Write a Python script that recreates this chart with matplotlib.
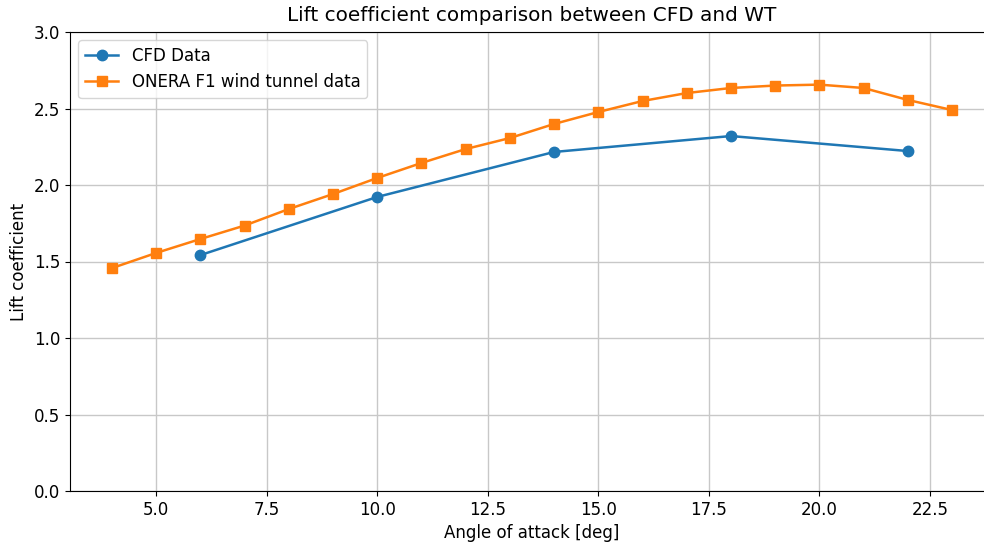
import matplotlib
matplotlib.use("Agg")
import matplotlib.pyplot as plt

# CFD results
cfd_aoa = [6, 10, 14, 18, 22]
cfd_cl = [1.542, 1.922, 2.216, 2.320, 2.222]

# ONERA F1 wind tunnel
wt_aoa = [4, 5, 6, 7, 8, 9, 10, 11, 12, 13, 14, 15, 16, 17, 18, 19, 20, 21, 22, 23]
wt_cl = [1.457, 1.556, 1.647, 1.735, 1.843, 1.941, 2.046, 2.144, 2.235, 2.307,
         2.399, 2.477, 2.549, 2.601, 2.634, 2.650, 2.656, 2.634, 2.556, 2.490]

plt.rcParams["font.size"] = 12

fig = plt.figure(figsize=(9.84, 5.47), dpi=100)
ax = fig.add_axes([70 / 984, 56 / 547, 924 / 984, 459 / 547])

ax.plot(cfd_aoa, cfd_cl, marker="o", markersize=7.5, linewidth=1.8, label="CFD Data")
ax.plot(wt_aoa, wt_cl, marker="s", markersize=7.5, linewidth=1.8,
        label="ONERA F1 wind tunnel data")

ax.set_ylim(0, 3.0)
ax.set_xlim(3.05, 23.95)
ax.grid(True, color="#c8c8c8", linewidth=1.0)
ax.set_axisbelow(True)
ax.spines["right"].set_visible(False)  # cropped off in the original
ax.set_xlabel("Angle of attack [deg]")
ax.set_ylabel("Lift coefficient")
ax.set_title("Lift coefficient comparison between CFD and WT", fontsize=14.4, pad=8)
ax.legend(loc="upper left")

fig.savefig("out.png", dpi=100)
